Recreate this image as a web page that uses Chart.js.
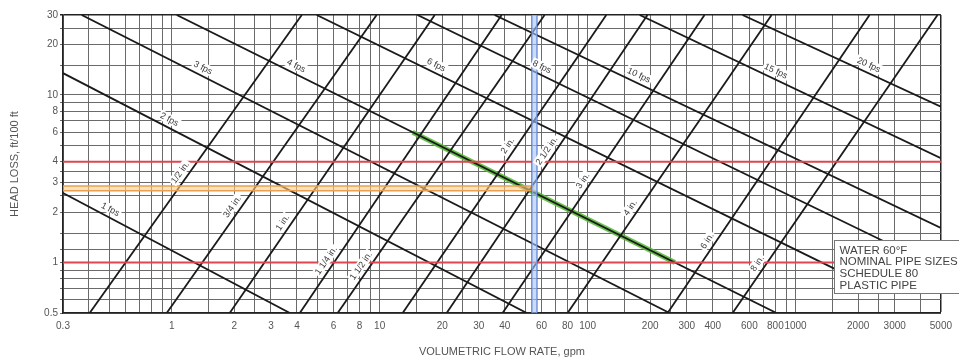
<!DOCTYPE html>
<html>
<head>
<meta charset="utf-8">
<script src="https://cdn.jsdelivr.net/npm/chart.js@4.4.0/dist/chart.umd.min.js"></script>
<style>
  html, body { margin: 0; padding: 0; background: #fff; }
  canvas { display: block; }
</style>
</head>
<body>
<canvas id="c" width="959" height="362"></canvas>
<script>
// Flow rate axis (gpm): grid positions and the values that carry a label
const flowGrid = [0.3,0.4,0.5,0.6,0.7,0.8,0.9,1,1.5,2,2.5,3,4,5,6,7,8,9,10,15,20,25,30,40,50,60,70,80,90,
                  100,150,200,250,300,400,500,600,700,800,900,1000,1500,2000,2500,3000,4000,5000];
const flowLabels = [0.3,1,2,3,4,6,8,10,20,30,40,60,80,100,200,300,400,600,800,1000,2000,3000,5000];

// Head loss axis (ft/100 ft)
const headGrid = [0.5,0.6,0.7,0.8,0.9,1,1.2,1.5,2,2.5,3,3.5,4,5,6,7,8,9,10,15,20,25,30];
const headLabels = [0.5,1,2,3,4,6,8,10,20,30];

// Constant-velocity lines: [flow, head] at each end
const velocityNames = ['1 fps','2 fps','3 fps','4 fps','6 fps','8 fps','10 fps','15 fps','20 fps'];
const velocityStart = [[0.3,2.6],[0.3,13.5],[0.369,30],[1.057,30],[4.98,30],[15.2,30],[35.7,30],[178,30],[556,30]];
const velocityEnd   = [[3.7,0.5],[51,0.5],[248,0.5],[810,0.5],[1820,0.83],[2830,1.29],[5000,1.61],[5000,4.2],[5000,8.5]];
// flow at which each velocity label sits
const velocityLabelFlow = [0.487,0.936,1.36,3.82,18.0,58.1,170,775,2171];

// Nominal pipe size lines: flow at 0.5 and at 30 ft/100 ft
const pipeNames = ['1/2 in.','3/4 in.','1 in.','1 1/4 in.','1 1/2 in.','2 in.','2 1/2 in.','3 in.','4 in.','6 in.','8 in.'];
const pipeHeads = [0.5, 30];
const pipeLowFlow  = [0.403,0.946,1.90,4.13,6.28,12.9,21.0,39.0,80.1,242.5,498];
const pipeHighFlow = [4.22,9.67,18.4,38.6,62.1,123,194,365,767,2269,4818];
// head loss at which each pipe label sits
const pipeLabelHead = [3.24,2.03,1.63,0.97,0.90,4.69,4.38,2.9,2.0,1.27,0.93];

// Highlighted reference lines
const limitHeads = [1, 4];                 // red horizontal limits
const selectedHeads = [2.68, 2.86];        // orange operating head band
const selectedFlows = [54, 57];            // blue operating flow band
const selectedPath = [[14.4, 6], [263, 1]]; // green path along 4 fps

const FLOW_MIN = 0.3, FLOW_MAX = 5000, HEAD_MIN = 0.5, HEAD_MAX = 30;

const noteLines = ['WATER 60\u00B0F', 'NOMINAL PIPE SIZES', 'SCHEDULE 80', 'PLASTIC PIPE'];

const FONT = '"Liberation Sans", Arial, Helvetica, sans-serif';

const seg = (a, b) => [{x: a[0], y: a[1]}, {x: b[0], y: b[1]}];
const datasets = [];

datasets.push({ data: seg(selectedPath[0], selectedPath[1]), borderColor: 'rgba(90,185,60,0.9)', borderWidth: 5, order: 9 });

velocityNames.forEach((n, i) => {
  datasets.push({ data: seg(velocityStart[i], velocityEnd[i]), borderColor: '#1a1a1a', borderWidth: 1.8, order: 5 });
});
pipeNames.forEach((n, i) => {
  datasets.push({ data: seg([pipeLowFlow[i], pipeHeads[0]], [pipeHighFlow[i], pipeHeads[1]]), borderColor: '#1a1a1a', borderWidth: 1.8, order: 5 });
});

limitHeads.forEach(h => {
  datasets.push({ data: seg([FLOW_MIN, h], [FLOW_MAX, h]), borderColor: '#e0464f', borderWidth: 2, order: 3 });
});

// orange band: pale fill plus two edges
const midHead = Math.sqrt(selectedHeads[0] * selectedHeads[1]);
const midFlow = Math.sqrt(selectedFlows[0] * selectedFlows[1]);
datasets.push({ data: seg([FLOW_MIN, midHead], [midFlow, midHead]), borderColor: 'rgba(250,205,150,0.6)', borderWidth: 5, order: 4 });
selectedHeads.forEach(h => {
  datasets.push({ data: seg([FLOW_MIN, h], [midFlow, h]), borderColor: '#e9a04e', borderWidth: 1.4, order: 3 });
});
datasets.push({ data: seg([midFlow, HEAD_MIN], [midFlow, HEAD_MAX]), borderColor: 'rgba(170,195,240,0.6)', borderWidth: 5, order: 2 });
selectedFlows.forEach(q => {
  datasets.push({ data: seg([q, HEAD_MIN], [q, HEAD_MAX]), borderColor: '#3d6fd6', borderWidth: 1.4, order: 2 });
});

datasets.forEach(d => { d.pointRadius = 0; d.fill = false; d.tension = 0; });

function drawTag(ctx, text, cx, cy, ang) {
  ctx.save();
  ctx.translate(cx, cy);
  ctx.rotate(ang);
  const w = ctx.measureText(text).width;
  ctx.fillStyle = '#fff';
  ctx.fillRect(-w / 2 - 1.5, -5, w + 3, 10);
  ctx.fillStyle = '#3a3a3a';
  ctx.fillText(text, 0, 0.5);
  ctx.restore();
}

const lineTags = {
  id: 'lineTags',
  afterDatasetsDraw(chart) {
    const { ctx, scales: { x, y } } = chart;
    const off = 8;
    ctx.save();
    ctx.font = '9px ' + FONT;
    ctx.textAlign = 'center';
    ctx.textBaseline = 'middle';
    velocityNames.forEach((name, i) => {
      const x1 = x.getPixelForValue(velocityStart[i][0]), y1 = y.getPixelForValue(velocityStart[i][1]);
      const x2 = x.getPixelForValue(velocityEnd[i][0]), y2 = y.getPixelForValue(velocityEnd[i][1]);
      const ang = Math.atan2(y2 - y1, x2 - x1);
      const px = x.getPixelForValue(velocityLabelFlow[i]);
      const py = y1 + (px - x1) * (y2 - y1) / (x2 - x1);
      drawTag(ctx, name, px + Math.sin(ang) * off, py - Math.cos(ang) * off, ang);
    });
    pipeNames.forEach((name, i) => {
      const x1 = x.getPixelForValue(pipeLowFlow[i]), y1 = y.getPixelForValue(pipeHeads[0]);
      const x2 = x.getPixelForValue(pipeHighFlow[i]), y2 = y.getPixelForValue(pipeHeads[1]);
      const ang = Math.atan2(y2 - y1, x2 - x1);
      const py = y.getPixelForValue(pipeLabelHead[i]);
      const px = x1 + (py - y1) * (x2 - x1) / (y2 - y1);
      drawTag(ctx, name, px + Math.sin(ang) * off, py - Math.cos(ang) * off, ang);
    });
    ctx.restore();
  },
  afterDraw(chart) {
    // conditions note box in the lower right corner
    const { ctx, scales: { x, y } } = chart;
    const left = Math.round(x.getPixelForValue(1530)) + 0.5;
    const top = Math.round(y.getPixelForValue(1.37)) + 0.5;
    const bottom = Math.round(y.getPixelForValue(0.66)) + 0.5;
    ctx.save();
    ctx.fillStyle = '#fff';
    ctx.fillRect(left, top, chart.width - left + 2, bottom - top);
    ctx.strokeStyle = '#777';
    ctx.lineWidth = 1;
    ctx.strokeRect(left, top, chart.width - left + 2, bottom - top);
    ctx.fillStyle = '#444';
    ctx.font = '11.5px ' + FONT;
    ctx.textAlign = 'left';
    ctx.textBaseline = 'middle';
    const step = (bottom - top - 6) / noteLines.length;
    noteLines.forEach((t, i) => ctx.fillText(t, left + 5, top + 4 + step * (i + 0.5)));
    ctx.restore();
  }
};

const gridColor = (edge) => (c) => (c.tick && c.tick.value === edge) ? '#222' : '#6a6a6a';
const gridWidth = (edge) => (c) => (c.tick && c.tick.value === edge) ? 1.5 : 1;

new Chart(document.getElementById('c'), {
  type: 'line',
  data: { datasets },
  plugins: [lineTags],
  options: {
    responsive: false,
    animation: false,
    devicePixelRatio: 1,
    layout: { padding: { left: 0, right: 18, top: 15, bottom: 0 } },
    plugins: { legend: { display: false }, tooltip: { enabled: false } },
    scales: {
      x: {
        type: 'logarithmic',
        min: FLOW_MIN, max: FLOW_MAX,
        afterBuildTicks: s => { s.ticks = flowGrid.map(v => ({ value: v })); },
        afterFit: s => { s.height = 49; },
        ticks: {
          autoSkip: false, maxRotation: 0, minRotation: 0, padding: 7,
          color: '#555', font: { family: FONT, size: 10 },
          callback: v => flowLabels.includes(v) ? String(v) : ''
        },
        grid: { color: gridColor(FLOW_MAX), lineWidth: gridWidth(FLOW_MAX), drawTicks: false },
        border: { color: '#222', width: 1.5 },
        title: {
          display: true, text: 'VOLUMETRIC FLOW RATE, gpm', color: '#555',
          font: { family: FONT, size: 11 }, padding: { top: 0, bottom: 3 }
        }
      },
      y: {
        type: 'logarithmic',
        min: HEAD_MIN, max: HEAD_MAX,
        afterBuildTicks: s => { s.ticks = headGrid.map(v => ({ value: v })); },
        afterFit: s => { s.width = 63; },
        ticks: {
          autoSkip: false, padding: 2,
          color: '#555', font: { family: FONT, size: 10 },
          callback: v => headLabels.includes(v) ? String(v) : ''
        },
        grid: { color: gridColor(HEAD_MAX), lineWidth: gridWidth(HEAD_MAX), tickLength: 3 },
        border: { color: '#222', width: 1.5 },
        title: {
          display: true, text: 'HEAD LOSS, ft/100 ft', color: '#555',
          font: { family: FONT, size: 11 }, padding: { top: 8, bottom: 0 }
        }
      }
    }
  }
});
</script>
</body>
</html>
